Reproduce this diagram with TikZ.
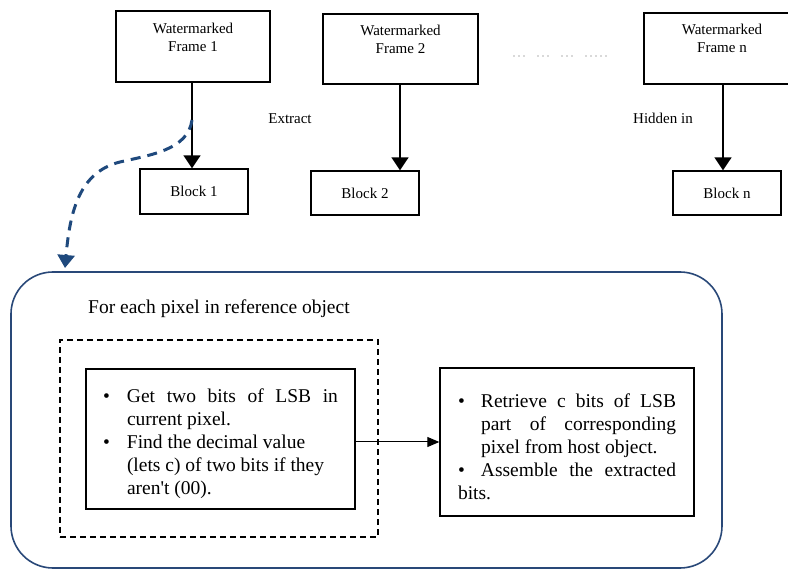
\documentclass[tikz,border=0pt]{standalone}
\usepackage{fontspec}
\setmainfont{Liberation Serif}
\usetikzlibrary{arrows.meta}
\definecolor{bordblue}{RGB}{41,72,120}
\definecolor{curveblue}{RGB}{31,73,125}
\newcommand\bulA{\par\noindent\hangindent=24pt\hangafter=1\makebox[24pt][l]{\textbullet}}
\newcommand\bulB{\par\noindent\hangindent=23pt\hangafter=1\makebox[23pt][l]{\textbullet}}
\tikzset{
  framebox/.style={draw, line width=1.4pt, inner sep=0pt, minimum width=155pt, minimum height=71pt},
  blockbox/.style={draw, line width=1.4pt, inner sep=0pt, minimum width=108pt, minimum height=44pt,
     font=\fontsize{15}{18}\selectfont},
  toptext/.style={inner sep=0pt, align=center, font=\fontsize{15}{18}\selectfont, anchor=north},
  lbl/.style={inner sep=0pt, font=\fontsize{15}{18}\selectfont},
  downarr/.style={line width=1.8pt, -{Triangle[width=17pt,length=13pt]}},
  bigtext/.style={font=\fontsize{19.5}{23}\selectfont},
  stepbox/.style={draw, line width=1.4pt, inner ysep=0pt, font=\fontsize{19.5}{23}\selectfont, align=justify}
}
\begin{document}
\begin{tikzpicture}[x=1pt,y=-1pt]
\useasboundingbox (0,0) rectangle (788,569);
\clip (0,0) rectangle (788,569);

% top frames
\node[framebox, minimum width=154pt] (f1) at (193,46.5) {};
\node[toptext] (f1t) at (193,23) {Watermarked\\Frame 1};
\node[framebox, minimum height=70pt] (f2) at (400.5,49) {};
\node[toptext] (f2t) at (400.5,25) {Watermarked\\Frame 2};
\node[framebox, minimum width=156pt] (f3) at (722,48.5) {};
\node[toptext] (f3t) at (722,24) {Watermarked\\Frame n};

% blocks
\node[blockbox, minimum height=45pt] (b1) at (194,191.5) {Block 1};
\node[blockbox] (b2) at (365,193) {Block 2};
\node[blockbox] (b3) at (727,193) {Block n};

% arrows
\draw[downarr] (f1.south -| 192,0) -- (b1.north -| 192,0);
\draw[downarr] (f2.south -| 400,0) -- (b2.north -| 400,0);
\draw[downarr] (f3.south -| 723,0) -- (b3.north -| 723,0);

% labels
\node[lbl] (ext) at (290,119) {Extract};
\node[lbl] (hid) at (663,118) {Hidden in};

% dots
\foreach \x in {514,519,524,538,543,548,562,567,572,586,591,596,601,606}
  \fill[gray!60] (\x,56) circle (0.9pt);

% dashed curve
\coordinate (c0) at (192,120);
\coordinate (c1) at (65,268);
\draw[curveblue, line width=3pt, dash pattern=on 10pt off 7pt,
      -{Triangle[width=17pt,length=13pt]}]
  (c0) .. controls (188,150) and (150,155) .. (120,162)
       .. controls (80,172) and (70,210) .. (c1);

% outer rounded box
\node[draw=bordblue, line width=1.6pt, rounded corners=42pt, minimum width=711pt,
      minimum height=296pt, inner sep=0pt] (outer) at (366.5,420) {};
\node[bigtext, anchor=base west, inner sep=0pt] (title) at (88,314) {For each pixel in reference object};

% dashed rect
\node[draw, line width=1.4pt, dash pattern=on 6pt off 4pt, minimum width=318pt,
      minimum height=197pt, inner sep=0pt] (dash) at (219,438.5) {};

% left step box
\node[stepbox, inner xsep=17pt, text width=235pt, minimum height=140pt] (lb) at (220.5,439) {%
\bulA Get two bits of LSB in\linebreak current pixel.
\bulA {\raggedright Find the decimal value\newline (lets c) of two bits if they\newline aren\textquotesingle t (00).\par}};

% right step box
\node[stepbox, inner xsep=18pt, text width=218pt, minimum height=148pt] (rb) at (567,442) {%
\bulB Retrieve c bits of LSB\linebreak part of corresponding\linebreak pixel from host object.
\bulB Assemble the extracted\linebreak bits.};

\draw[line width=1pt, -{Triangle[width=10pt,length=12pt]}] (lb.east |- rb.west) -- (rb.west);
\end{tikzpicture}
\end{document}
